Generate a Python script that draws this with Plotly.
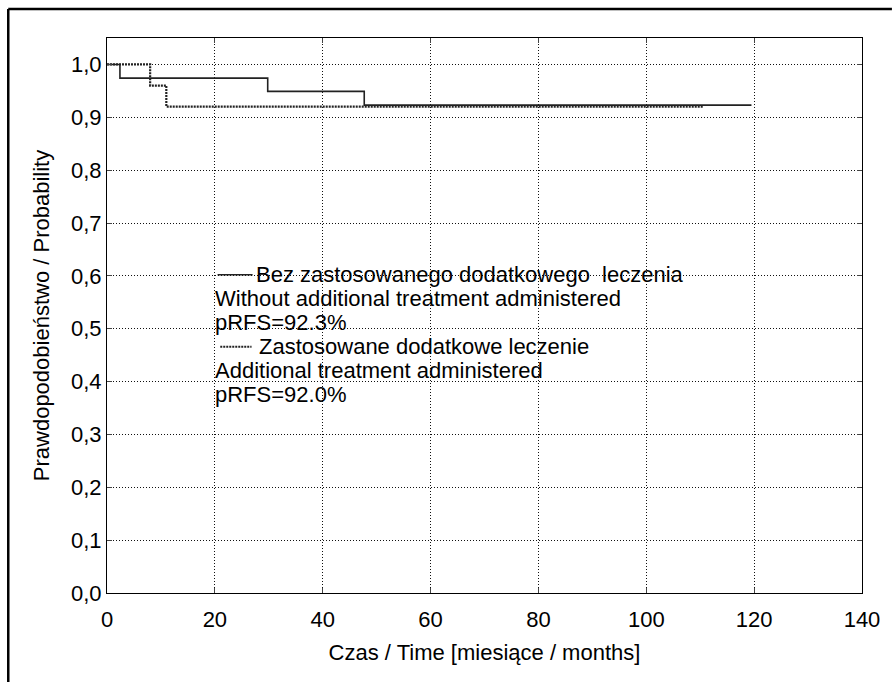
import plotly.graph_objects as go

# Kaplan-Meier step data
t_without = [0, 2.4, 29.8, 47.7, 119.5]
s_without = [1.0, 0.974, 0.949, 0.923, 0.923]
t_with = [0, 8.0, 11.0, 110.6]
s_with = [1.0, 0.96, 0.92, 0.92]

x_ticks = [0, 20, 40, 60, 80, 100, 120, 140]
y_ticks = [0.0, 0.1, 0.2, 0.3, 0.4, 0.5, 0.6, 0.7, 0.8, 0.9, 1.0]

legend_lines = [
    "Bez zastosowanego dodatkowego  leczenia",
    "Without additional treatment administered",
    "pRFS=92.3%",
    "Zastosowane dodatkowe leczenie",
    "Additional treatment administered",
    "pRFS=92.0%",
]

FONT = "Liberation Sans, Arial, sans-serif"
FS = 22

fig = go.Figure()
fig.add_trace(go.Scatter(x=t_without, y=s_without, mode="lines", line_shape="hv",
                         line=dict(color="#222222", width=1.6), showlegend=False))
fig.add_trace(go.Scatter(x=t_with, y=s_with, mode="lines", line_shape="hv",
                         line=dict(color="#222222", width=2.2, dash="2px,1px"), showlegend=False))

# legend block (annotations)
lx = 20
ly0 = 0.602
dy = 0.0453
anns = []
for i, txt in enumerate(legend_lines):
    xoff = 0
    if i == 0:
        xoff = 7.7
    elif i == 3:
        xoff = 8.2
    anns.append(dict(x=lx + xoff, y=ly0 - i * dy, xref="x", yref="y", text=txt,
                     showarrow=False, xanchor="left", yanchor="middle",
                     xshift=-2,
                     font=dict(family=FONT, size=FS, color="#000000")))

shapes = [
    dict(type="line", xref="x", yref="y", x0=20.5, x1=27.0, y0=ly0, y1=ly0,
         line=dict(color="#222222", width=1.5)),
    dict(type="line", xref="x", yref="y", x0=21.0, x1=26.8, y0=ly0 - 3 * dy, y1=ly0 - 3 * dy,
         line=dict(color="#222222", width=2, dash="2px,1px")),
    # outer frame (left and top)
    dict(type="line", xref="paper", yref="paper", x0=(8 - 107) / 757, x1=(8 - 107) / 757,
         y0=(593 - 9) / 555, y1=(593 - 684) / 555, line=dict(color="#000000", width=2.5)),
    dict(type="line", xref="paper", yref="paper", x0=(8 - 107) / 757, x1=(894 - 107) / 757,
         y0=(593 - 9) / 555, y1=(593 - 9) / 555, line=dict(color="#000000", width=2.5)),
]

fig.update_layout(
    width=892, height=682,
    margin=dict(l=107, r=28, t=38, b=89),
    paper_bgcolor="white", plot_bgcolor="white",
    separators=", ",
    font=dict(family=FONT, size=FS, color="#000000"),
    annotations=anns, shapes=shapes,
    xaxis=dict(range=[0, 140], tickvals=x_ticks, ticks="inside", ticklen=5,
               ticklabelstandoff=6,
               showline=True, linecolor="#000000", linewidth=1.2, mirror="ticks",
               showgrid=True, gridcolor="#111111", griddash="1px,2px", gridwidth=1,
               zeroline=False,
               title=dict(text="Czas / Time [miesiące / months]", standoff=14,
                          font=dict(size=FS))),
    yaxis=dict(range=[0, 1.05], tickvals=y_ticks, tickformat=".1f", ticks="inside", ticklen=5,
               showline=True, linecolor="#000000", linewidth=1.2, mirror="ticks",
               showgrid=True, gridcolor="#111111", griddash="1px,2px", gridwidth=1,
               zeroline=False,
               title=dict(text="Prawdopodobieństwo / Probability", standoff=15,
                          font=dict(size=FS))),
)

fig.write_html(
    "out.html",
    config={"displayModeBar": False},
    post_script="document.body.style.margin='0';document.body.style.padding='0';"
                "document.body.style.overflow='hidden';"
                "document.documentElement.style.overflow='hidden';",
)
